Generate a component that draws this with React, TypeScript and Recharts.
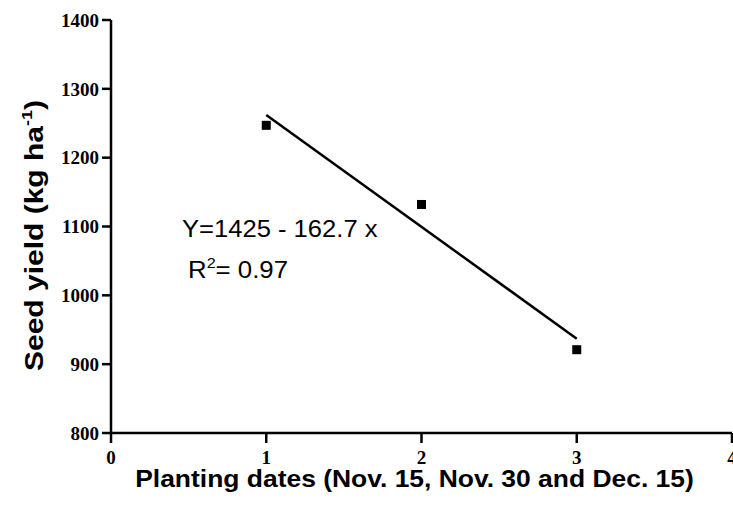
import React from "react";
import { ComposedChart, Scatter, Line, XAxis, YAxis, Label, Customized } from "recharts";

if (typeof document !== "undefined") document.body.style.margin = "0";

const xTicks = [0, 1, 2, 3, 4];
const yTicks = [800, 900, 1000, 1100, 1200, 1300, 1400];
const plantingDates = [1, 2, 3];
const seedYield = [1247, 1132, 921];
const fitX = [1, 3];
const fitY = [1262, 937];
const equationText = "Y=1425 - 162.7 x";
const r2Value = "0.97";
const xTitle = "Planting dates (Nov. 15, Nov. 30 and Dec. 15)";

const pointData = plantingDates.map((x, i) => ({ x, y: seedYield[i] }));
const fitData = fitX.map((x, i) => ({ x, fit: fitY[i] }));

const tickStyle = { fontFamily: "Liberation Serif", fontWeight: "bold", fontSize: 19, fill: "#000" };
const axisStroke = { stroke: "#000", strokeWidth: 2.5 };

const SquareDot = (props: any) => {
  const { cx, cy } = props;
  if (cx == null || cy == null) return null;
  return <rect x={cx - 4.5} y={cy - 4.5} width={9} height={9} fill="#000" />;
};

const XLabel = (props: any) => {
  const vb = props.viewBox;
  const cx = vb.x + vb.width / 2 - 7;
  return (
    <g transform={`translate(${cx} 487) scale(1.15 1)`}>
      <text x={0} y={0} textAnchor="middle" fontFamily="Liberation Sans" fontWeight="bold" fontSize={23} fill="#000">
        {xTitle}
      </text>
    </g>
  );
};

const YLabel = (props: any) => {
  const vb = props.viewBox;
  const cy = vb.y + vb.height / 2 + 9;
  const x = 43;
  return (
    <g transform={`translate(${x} ${cy}) rotate(-90) scale(1.2 1)`}>
      <text x={0} y={0} textAnchor="middle" fontFamily="Liberation Sans" fontWeight="bold" fontSize={25} fill="#000">
        Seed yield (kg ha
        <tspan fontSize={15} dy={-11}>-1</tspan>
        <tspan dy={11}>)</tspan>
      </text>
    </g>
  );
};

const Annotation = () => (
  <g fontFamily="Liberation Sans" fontSize={24} fill="#000">
    <g transform="translate(182 237) scale(1.066 1)">
      <text x={0} y={0}>{equationText}</text>
    </g>
    <g transform="translate(188 278) scale(1.075 1)">
      <text x={0} y={0}>
        R<tspan fontSize={15} dy={-10}>2</tspan>
        <tspan dy={10}>= {r2Value}</tspan>
      </text>
    </g>
  </g>
);

export default function App() {
  return (
    <div style={{ width: 733, height: 514, background: "#fff" }}>
      <ComposedChart width={733} height={514} margin={{ top: 20, right: 1, bottom: 0, left: 0 }}>
        <XAxis
          type="number"
          dataKey="x"
          domain={[0, 4]}
          ticks={xTicks}
          interval={0}
          height={81}
          axisLine={axisStroke}
          tickLine={axisStroke}
          tickSize={10}
          tickMargin={8}
          tick={tickStyle}
          allowDataOverflow
        >
          <Label content={<XLabel />} />
        </XAxis>
        <YAxis
          type="number"
          domain={[800, 1400]}
          ticks={yTicks}
          interval={0}
          width={111}
          axisLine={axisStroke}
          tickLine={axisStroke}
          tickSize={9}
          tickMargin={3}
          tick={tickStyle}
          allowDataOverflow
        >
          <Label content={<YLabel />} />
        </YAxis>
        <Line data={fitData} dataKey="fit" type="linear" stroke="#000" strokeWidth={2.5} dot={false} isAnimationActive={false} />
        <Scatter data={pointData} dataKey="y" fill="#000" shape={<SquareDot />} isAnimationActive={false} />
        <Customized component={Annotation} />
      </ComposedChart>
    </div>
  );
}
